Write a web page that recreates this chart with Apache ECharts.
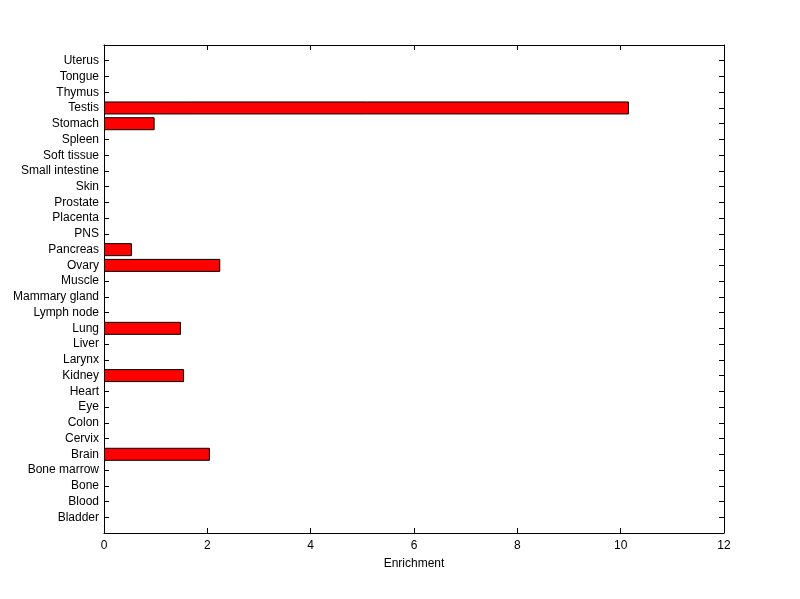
<!DOCTYPE html>
<html>
<head>
<meta charset="utf-8">
<script src="https://cdn.jsdelivr.net/npm/echarts@6/dist/echarts.min.js"></script>
<style>
  html, body { margin: 0; padding: 0; background: #fff; }
  #main { width: 800px; height: 599px; }
</style>
</head>
<body>
<div id="main"></div>
<script>
// tissues, bottom to top
var tissues = ['Bladder', 'Blood', 'Bone', 'Bone marrow', 'Brain', 'Cervix', 'Colon', 'Eye', 'Heart',
  'Kidney', 'Larynx', 'Liver', 'Lung', 'Lymph node', 'Mammary gland', 'Muscle', 'Ovary', 'Pancreas',
  'PNS', 'Placenta', 'Prostate', 'Skin', 'Small intestine', 'Soft tissue', 'Spleen', 'Stomach',
  'Testis', 'Thymus', 'Tongue', 'Uterus'];
var enrichment = [0, 0, 0, 0, 2.05, 0, 0, 0, 0,
  1.55, 0, 0, 1.49, 0, 0, 0, 2.25, 0.54,
  0, 0, 0, 0, 0, 0, 0, 0.98,
  10.16, 0, 0, 0];
var xTicks = [0, 2, 4, 6, 8, 10, 12];

// one empty slot at each end, like matlab's barh limits
var yCats = [''].concat(tissues).concat(['']);
var barData = ['-'].concat(enrichment.map(function (v) { return v > 0 ? v : '-'; })).concat(['-']);

var font = 'Liberation Sans, Arial, sans-serif';
var black = '#000';

var chart = echarts.init(document.getElementById('main'));
var option = {
  animation: false,
  backgroundColor: '#fff',
  grid: { left: 104, right: 76, top: 45, bottom: 66, containLabel: false },
  xAxis: [{
    type: 'value',
    min: xTicks[0],
    max: xTicks[xTicks.length - 1],
    interval: 2,
    name: 'Enrichment',
    nameLocation: 'middle',
    nameGap: 25,
    nameTextStyle: { color: black, fontSize: 12, fontFamily: font },
    axisLine: { show: true, onZero: false, lineStyle: { color: black, width: 1 } },
    axisTick: { show: true, inside: true, length: 5, lineStyle: { color: black } },
    axisLabel: { color: black, fontSize: 12, fontFamily: font, margin: 7 },
    splitLine: { show: false }
  }, {
    type: 'value',
    position: 'top',
    min: xTicks[0],
    max: xTicks[xTicks.length - 1],
    interval: 2,
    axisLine: { show: true, onZero: false, lineStyle: { color: black, width: 1 } },
    axisTick: { show: true, inside: true, length: 5, lineStyle: { color: black } },
    axisLabel: { show: false },
    splitLine: { show: false }
  }],
  yAxis: [{
    type: 'category',
    data: yCats,
    boundaryGap: false,
    axisLine: { show: true, onZero: false, lineStyle: { color: black, width: 1 } },
    axisTick: { show: true, inside: true, length: 5, interval: 0, lineStyle: { color: black } },
    axisLabel: { color: black, fontSize: 12, fontFamily: font, margin: 5, interval: 0 },
    splitLine: { show: false }
  }, {
    type: 'category',
    data: yCats,
    position: 'right',
    boundaryGap: false,
    axisLine: { show: true, onZero: false, lineStyle: { color: black, width: 1 } },
    axisTick: { show: true, inside: true, length: 5, interval: 0, lineStyle: { color: black } },
    axisLabel: { show: false },
    splitLine: { show: false }
  }],
  series: [{
    type: 'bar',
    xAxisIndex: 0,
    yAxisIndex: 0,
    data: barData,
    barWidth: 13,
    itemStyle: { color: '#ff0000', borderColor: black, borderWidth: 1 }
  }]
};
chart.setOption(option);
</script>
</body>
</html>
